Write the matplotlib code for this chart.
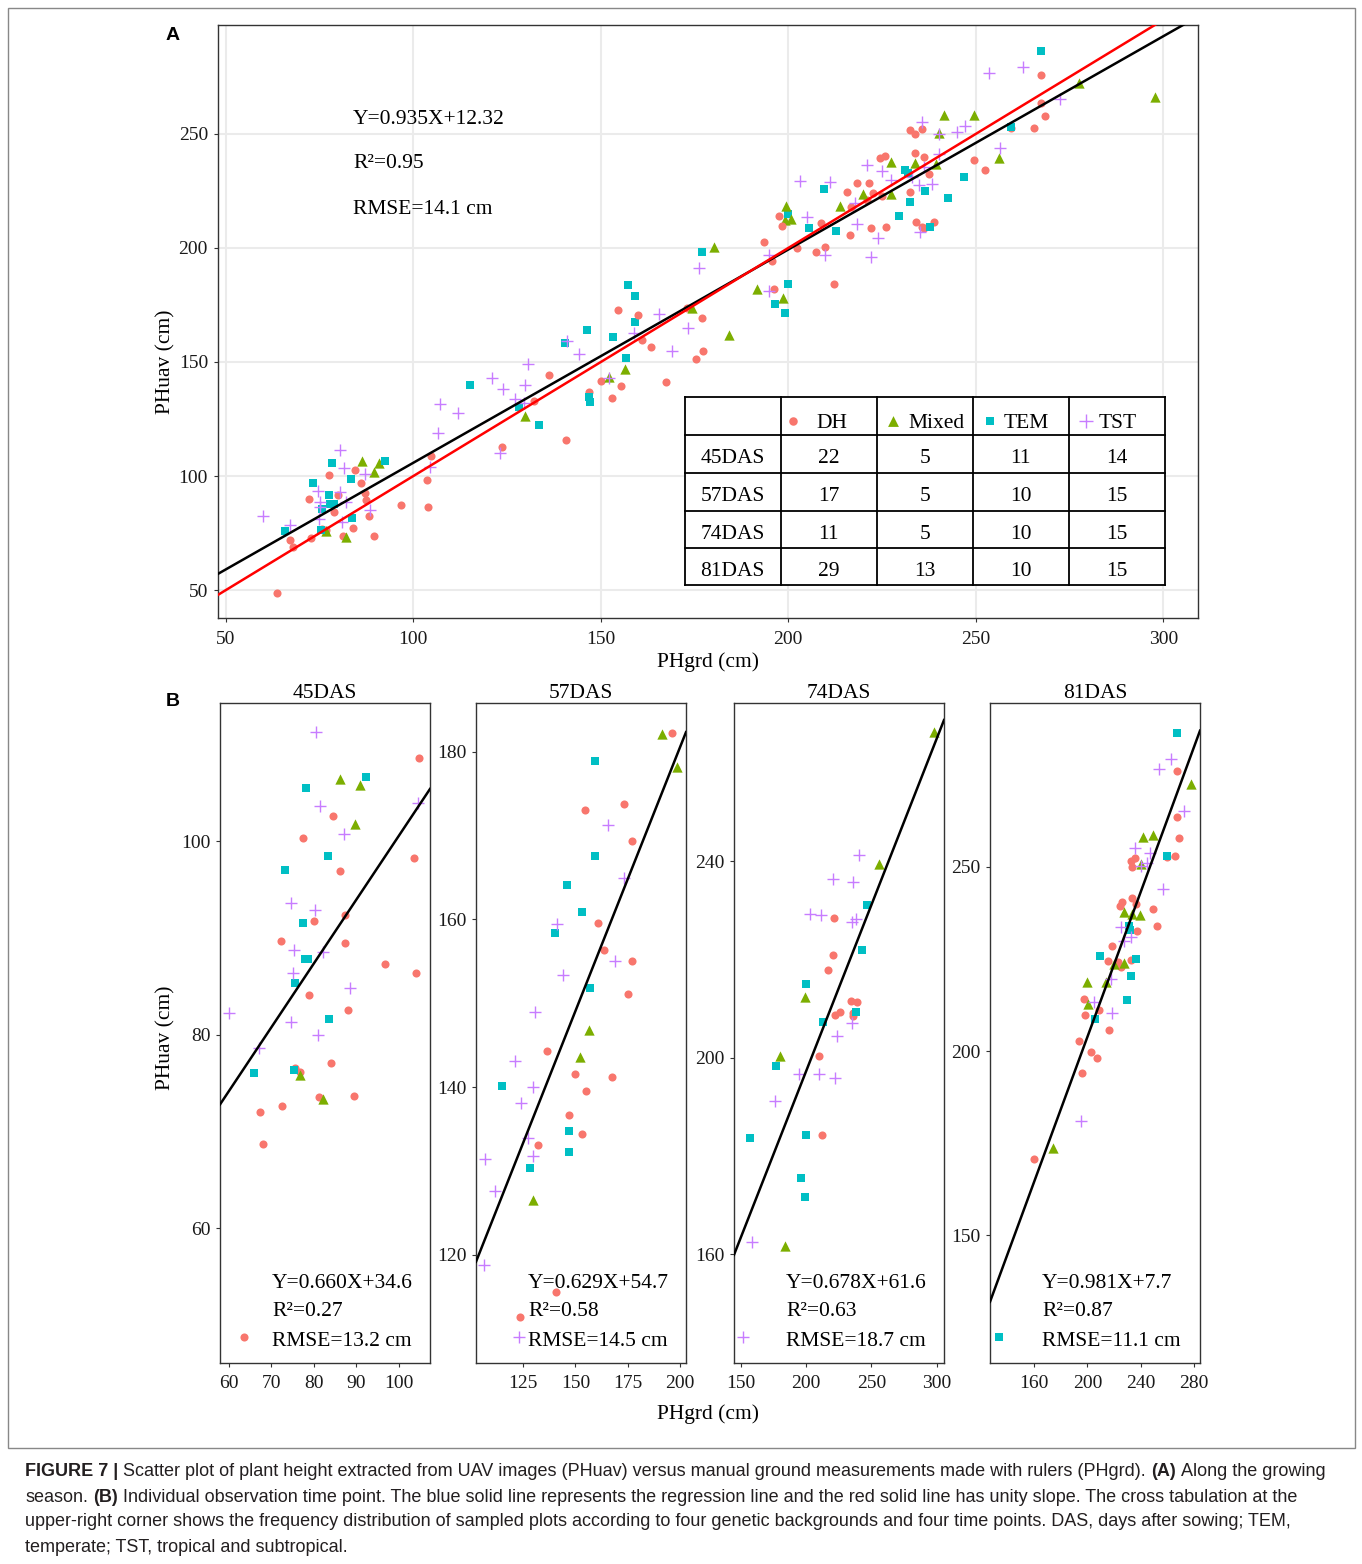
import numpy as np
import matplotlib
matplotlib.use("Agg")
import matplotlib.pyplot as plt

W, H = 1362, 1564
plt.rcParams['font.family'] = ['Liberation Serif', 'DejaVu Serif']

groups = ['DH', 'Mixed', 'TEM', 'TST']
colors = {'DH': '#F8766D', 'Mixed': '#7CAE00', 'TEM': '#00BFC4', 'TST': '#C77CFF'}
markers = {'DH': 'o', 'Mixed': '^', 'TEM': 's', 'TST': '+'}
msize = {'DH': 34, 'Mixed': 55, 'TEM': 32, 'TST': 85}
das = ['45DAS', '57DAS', '74DAS', '81DAS']

# (PHgrd, PHuav)
dh45 = [(104.8, 108.6), (84.5, 102.6), (77.5, 100.4), (103.6, 98.3), (86.1, 96.9),
        (87.2, 92.4), (79.9, 91.8), (72.2, 89.7), (87.3, 89.5), (96.7, 87.3),
        (104.0, 86.4), (78.9, 84.1), (88.1, 82.6), (84.0, 77.1), (75.5, 76.6),
        (76.8, 76.2), (81.1, 73.6), (89.5, 73.7), (72.6, 72.7), (67.2, 72.0),
        (67.9, 68.7), (63.6, 48.8)]
mix45 = [(86.2, 106.4), (90.8, 105.8), (89.6, 101.8), (76.8, 75.9), (82.1, 73.4)]
tem45 = [(92.3, 106.7), (78.2, 105.5), (83.3, 98.5), (73.3, 97.0), (77.4, 91.6),
         (77.8, 87.8), (78.7, 87.8), (75.5, 85.4), (83.5, 81.6), (65.8, 76.1),
         (75.4, 76.4)]
tst45 = [(80.5, 111.3), (81.5, 103.7), (87.0, 100.8), (104.5, 104.0), (74.5, 93.6),
         (80.3, 92.9), (75.2, 88.8), (82.1, 88.6), (75.0, 86.4), (88.4, 84.9),
         (60.0, 82.3), (74.7, 81.3), (81.0, 80.0), (67.1, 78.7)]

dh57 = [(196.2, 182.2), (173.1, 173.8), (154.6, 173.0), (176.9, 169.3), (161.0, 159.6),
        (163.5, 156.4), (177.2, 155.0), (175.3, 151.1), (136.3, 144.3), (150.0, 141.6),
        (167.4, 141.2), (155.3, 139.5), (146.8, 136.7), (153.0, 134.4), (132.3, 133.1),
        (140.8, 115.6), (123.6, 112.6)]
mix57 = [(191.6, 182.1), (198.6, 178.2), (156.5, 146.8), (152.2, 143.6), (129.9, 126.5)]
tem57 = [(159.2, 178.9), (159.2, 167.6), (146.2, 164.1), (153.3, 160.9), (140.4, 158.4),
         (156.8, 151.8), (115.1, 140.1), (146.8, 134.8), (147.1, 132.3), (128.2, 130.4)]
tst57 = [(165.4, 171.2), (173.2, 164.9), (141.1, 159.4), (168.9, 155.0), (144.3, 153.4),
         (130.7, 149.0), (121.0, 143.1), (129.9, 140.0), (124.0, 138.1), (127.2, 133.9),
         (129.6, 131.8), (107.0, 131.4), (111.8, 127.6), (106.5, 118.8), (123.1, 110.2)]

dh74 = [(221.6, 228.4), (220.9, 220.9), (216.8, 217.8), (234.1, 211.6), (238.9, 211.4),
        (222.1, 208.7), (226.0, 209.3), (235.6, 209.1), (236.1, 208.6), (209.9, 200.4),
        (212.2, 184.2)]
mix74 = [(297.7, 266.4), (256.2, 239.5), (199.0, 212.4), (180.2, 200.3), (184.2, 161.8)]
tem74 = [(246.8, 231.1), (242.7, 222.0), (200.0, 215.0), (237.9, 209.3), (212.7, 207.3),
         (177.1, 198.4), (157.3, 183.7), (200.0, 184.2), (196.4, 175.6), (199.0, 171.6)]
tst74 = [(240.2, 241.2), (220.9, 236.4), (236.1, 235.7), (203.1, 229.2), (211.2, 229.0),
         (234.9, 227.6), (238.2, 228.2), (235.1, 207.1), (223.9, 204.4), (194.9, 196.7),
         (209.7, 196.8), (222.1, 195.9), (176.1, 191.3), (158.8, 162.5), (152.2, 143.1)]

dh81 = [(267.5, 276.0), (267.5, 263.4), (268.6, 257.8), (259.5, 252.5), (265.6, 252.8),
        (235.7, 252.3), (232.5, 251.6), (233.7, 249.9), (233.7, 241.6), (225.7, 240.3),
        (224.4, 239.3), (236.2, 239.8), (249.5, 238.4), (252.5, 234.0), (237.4, 232.6),
        (218.4, 228.6), (215.6, 224.4), (222.7, 224.2), (225.0, 222.7), (232.5, 224.6),
        (197.4, 214.2), (208.6, 211.1), (198.3, 209.7), (216.4, 205.7), (193.6, 202.7),
        (202.4, 199.8), (207.4, 198.2), (195.6, 194.1), (160.0, 170.8)]
mix81 = [(277.6, 272.3), (241.5, 258.1), (249.5, 258.5), (240.2, 250.6), (227.4, 237.6),
         (233.7, 237.3), (239.5, 236.9), (227.4, 223.8), (220.0, 223.5), (199.4, 218.6),
         (213.7, 218.6), (200.6, 212.9), (174.3, 173.8)]
tem81 = [(267.5, 286.3), (259.5, 252.9), (231.2, 234.0), (232.0, 232.8), (209.4, 225.7),
         (236.5, 225.0), (232.5, 220.3), (229.5, 213.8), (205.6, 208.8), (133.4, 122.5)]
tst81 = [(262.6, 279.2), (253.5, 276.6), (272.6, 265.1), (235.7, 255.1), (247.0, 253.6),
         (240.2, 250.1), (256.5, 244.0), (225.0, 233.7), (227.4, 229.9), (233.0, 231.0),
         (217.9, 219.6), (204.9, 213.4), (218.4, 210.4), (194.8, 181.1), (245.0, 251.0)]

series = {
    '45DAS': {'DH': dh45, 'Mixed': mix45, 'TEM': tem45, 'TST': tst45},
    '57DAS': {'DH': dh57, 'Mixed': mix57, 'TEM': tem57, 'TST': tst57},
    '74DAS': {'DH': dh74, 'Mixed': mix74, 'TEM': tem74, 'TST': tst74},
    '81DAS': {'DH': dh81, 'Mixed': mix81, 'TEM': tem81, 'TST': tst81},
}

# regression results
all_fit = (0.935, 12.32, '0.95', '14.1')
fit_slope = [0.660, 0.629, 0.678, 0.981]
fit_icpt = [34.6, 54.7, 61.6, 7.7]
fit_r2 = ['0.27', '0.58', '0.63', '0.87']
fit_rmse = ['13.2', '14.5', '18.7', '11.1']

# cross tabulation
counts = {'45DAS': [22, 5, 11, 14], '57DAS': [17, 5, 10, 15],
          '74DAS': [11, 5, 10, 15], '81DAS': [29, 13, 10, 15]}

# axis ranges / ticks
a_xlim, a_ylim = (47.8, 309.2), (37.6, 297.9)
a_xticks = [50, 100, 150, 200, 250, 300]
a_yticks = [50, 100, 150, 200, 250]
b_xlim = [(57.9, 107.3), (102.5, 202.9), (145.0, 305.5), (126.7, 284.6)]
b_ylim = [(46.1, 114.3), (107.1, 185.8), (137.9, 272.2), (115.4, 294.4)]
b_xticks = [[60, 70, 80, 90, 100], [125, 150, 175, 200], [150, 200, 250, 300], [160, 200, 240, 280]]
b_yticks = [[60, 80, 100], [120, 140, 160, 180], [160, 200, 240], [150, 200, 250]]

fig = plt.figure(figsize=(W / 100, H / 100), dpi=100)


def px_axes(l, t, r, b):
    return fig.add_axes([l / W, 1 - b / H, (r - l) / W, (b - t) / H])


def style(ax):
    for s in ax.spines.values():
        s.set_color('#333333')
        s.set_linewidth(1.0)
    ax.tick_params(direction='out', length=3, width=0.8, color='#333333',
                   labelsize=14, labelcolor='#1a1a1a', pad=4)
    ax.tick_params(axis='x', pad=6)


def scatter_groups(ax, data):
    for g in groups:
        pts = np.array(data[g])
        kw = dict(s=msize[g], marker=markers[g], color=colors[g], zorder=3)
        if g == 'TST':
            kw['linewidths'] = 1.0
        else:
            kw['linewidths'] = 0
        ax.scatter(pts[:, 0], pts[:, 1], **kw)


# ---- panel A
axA = px_axes(217.7, 24.7, 1197.7, 618.3)
style(axA)
axA.set_xlim(*a_xlim)
axA.set_ylim(*a_ylim)
axA.set_xticks(a_xticks)
axA.set_yticks(a_yticks)
axA.grid(True, color='#EBEBEB', linewidth=1.5, zorder=0)
axA.set_axisbelow(True)
for t in das:
    scatter_groups(axA, series[t])
axA.axline((0, all_fit[1]), slope=all_fit[0], color='black', lw=1.8, zorder=4)
axA.axline((0, 0), slope=1, color='red', lw=1.8, zorder=4)

# ---- panel B
b_left = [220, 476, 734, 990]
axesB = []
for i, t in enumerate(das):
    ax = px_axes(b_left[i], 703, b_left[i] + 210, 1363)
    style(ax)
    ax.set_xlim(*b_xlim[i])
    ax.set_ylim(*b_ylim[i])
    ax.set_xticks(b_xticks[i])
    ax.set_yticks(b_yticks[i])
    scatter_groups(ax, series[t])
    ax.axline((0, fit_icpt[i]), slope=fit_slope[i], color='black', lw=1.8, zorder=4)
    ax.set_title(t, fontsize=15.5, pad=3)
    axesB.append(ax)

# ---- overlay in figure pixels
ov = fig.add_axes([0, 0, 1, 1], zorder=10)
ov.set_xlim(0, W)
ov.set_ylim(H, 0)
ov.axis('off')
ov.patch.set_alpha(0)

ov.add_patch(plt.Rectangle((8, 8), 1347, 1440, fill=False, ec='#888888', lw=1.0))

txt = dict(fontsize=15.5, color='black')
ov.text(353, 119, 'Y={:.3f}X+{:.2f}'.format(all_fit[0], all_fit[1]), va='center', **txt)
ov.text(353, 164, 'R²={}'.format(all_fit[2]), va='center', **txt)
ov.text(353, 209, 'RMSE={} cm'.format(all_fit[3]), va='center', **txt)

for i in range(4):
    x0 = b_left[i] + 52
    ov.text(x0, 1283, 'Y={:.3f}X+{}'.format(fit_slope[i], fit_icpt[i]), va='center', **txt)
    ov.text(x0, 1312, 'R²={}'.format(fit_r2[i]), va='center', **txt)
    ov.text(x0, 1341, 'RMSE={} cm'.format(fit_rmse[i]), va='center', **txt)

ov.text(708, 662, 'PHgrd (cm)', ha='center', va='center', **txt)
ov.text(166, 362, 'PHuav (cm)', ha='center', va='center', rotation=90, **txt)
ov.text(708, 1414, 'PHgrd (cm)', ha='center', va='center', **txt)
ov.text(166, 1038, 'PHuav (cm)', ha='center', va='center', rotation=90, **txt)

ov.text(173, 36, 'A', fontsize=14, fontweight='bold', family=['Liberation Sans'], ha='center', va='center')
ov.text(173, 701, 'B', fontsize=14, fontweight='bold', family=['Liberation Sans'], ha='center', va='center')

# cross tabulation table
col_x = [684.7, 780.7, 876.7, 972.7, 1068.7, 1165.0]
row_y = [397.3, 435.0, 472.7, 510.7, 548.3, 585.0]
ov.add_patch(plt.Rectangle((col_x[0], row_y[0]), col_x[-1] - col_x[0], row_y[-1] - row_y[0],
                           fc='white', ec='none'))
for x in col_x:
    ov.plot([x, x], [row_y[0], row_y[-1]], color='black', lw=1.3)
for y in row_y:
    ov.plot([col_x[0], col_x[-1]], [y, y], color='black', lw=1.3)
hdr_mark = [792.7, 893.3, 990.0, 1086.0]
hdr_text = [831.7, 936.7, 1026.7, 1117.3]
hy = (row_y[0] + row_y[1]) / 2 + 7
for j, g in enumerate(groups):
    ov.scatter([hdr_mark[j]], [hy - 2], s=msize[g] * 1.1, marker=markers[g], color=colors[g],
               linewidths=1.0 if g == 'TST' else 0)
    ov.text(hdr_text[j], hy, g, ha='center', va='center', **txt)
for r, t in enumerate(das):
    yc = (row_y[r + 1] + row_y[r + 2]) / 2 + 5
    ov.text((col_x[0] + col_x[1]) / 2, yc, t, ha='center', va='center', **txt)
    for j in range(4):
        ov.text((col_x[j + 1] + col_x[j + 2]) / 2, yc, str(counts[t][j]), ha='center', va='center', **txt)

# caption with bold parts
cap_lines = [
    [('FIGURE 7 |', 'bold'), (' Scatter plot of plant height extracted from UAV images (PHuav) versus manual '
                               'ground measurements made with rulers (PHgrd). ', 'normal'),
     ('(A)', 'bold'), (' Along the growing', 'normal')],
    [('season. ', 'normal'), ('(B)', 'bold'),
     (' Individual observation time point. The blue solid line represents the regression line and the red '
      'solid line has unity slope. The cross tabulation at the', 'normal')],
    [('upper-right corner shows the frequency distribution of sampled plots according to four genetic '
      'backgrounds and four time points. DAS, days after sowing; TEM,', 'normal')],
    [('temperate; TST, tropical and subtropical.', 'normal')],
]
cap_y = [1472, 1497, 1522, 1547]
cap_fs = 13.0
renderer = fig.canvas.get_renderer()


def width_of(s, weight):
    t = ov.text(0, 0, s, fontsize=cap_fs, fontweight=weight, family=['Liberation Sans'])
    w = t.get_window_extent(renderer).width
    t.remove()
    return w


space_w = width_of('x x', 'normal') - width_of('xx', 'normal')
for parts, y in zip(cap_lines, cap_y):
    x = 25
    for s, wgt in parts:
        lead = len(s) - len(s.lstrip(' '))
        trail = len(s) - len(s.rstrip(' '))
        x += lead * space_w
        core = s.strip(' ')
        t = ov.text(x, y, core, fontsize=cap_fs, fontweight=wgt, family=['Liberation Sans'],
                    color='#231F20', va='center', ha='left')
        x += t.get_window_extent(renderer).width + trail * space_w

fig.savefig('out.png', dpi=100)
